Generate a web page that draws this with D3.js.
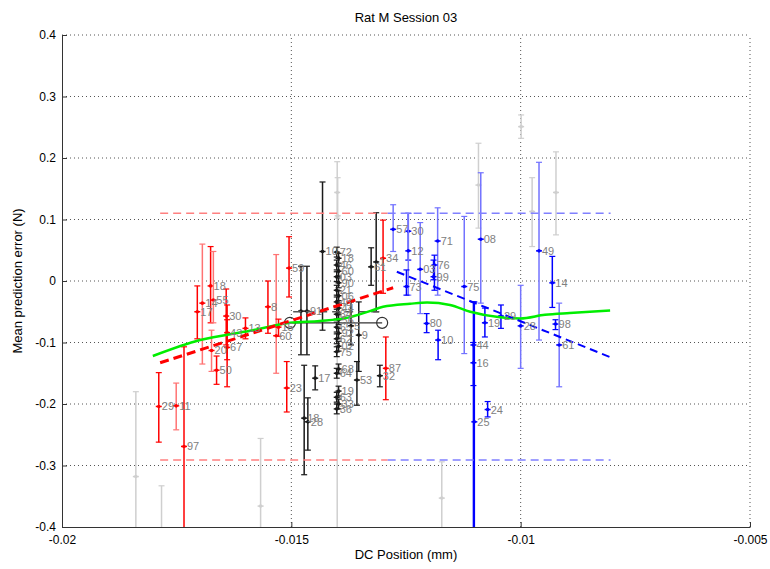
<!DOCTYPE html>
<html>
<head>
<meta charset="utf-8">
<script src="https://cdn.jsdelivr.net/npm/d3@7"></script>
<style>
  body { margin: 0; background: #fff; }
  text { font-family: "Liberation Sans", Arial, sans-serif; }
</style>
</head>
<body>
<svg id="chart" width="770" height="569"></svg>
<script>
// [label, x, mean, low, high]
const redPoints = [
  ["29", -0.01789, -0.204, -0.262, -0.149],
  ["11", -0.01751, -0.203, -0.242, -0.166],
  ["97", -0.01734, -0.269, -0.5, -0.107],
  ["17", -0.01705, -0.050, -0.094, -0.008],
  ["14", -0.01694, -0.036, -0.135, 0.060],
  ["18", -0.01676, -0.008, -0.068, 0.056],
  ["55", -0.01670, -0.031, -0.068, 0.048],
  ["20", -0.01674, -0.113, -0.147, -0.080],
  ["50", -0.01663, -0.145, -0.168, -0.122],
  ["30", -0.01642, -0.057, -0.104, -0.013],
  ["43", -0.01640, -0.084, -0.128, -0.039],
  ["67", -0.01640, -0.108, -0.172, -0.063],
  ["13", -0.01600, -0.077, -0.094, -0.060],
  ["8", -0.01551, -0.042, -0.085, 0.000],
  ["60", -0.01533, -0.089, -0.150, 0.043],
  ["15", -0.01528, -0.075, -0.090, -0.062],
  ["59", -0.01505, 0.021, -0.026, 0.072],
  ["23", -0.01510, -0.174, -0.213, -0.131],
  ["34", -0.01300, 0.037, -0.020, 0.099],
  ["87", -0.01294, -0.142, -0.193, -0.091]
];

const blackPoints = [
  ["", -0.01479, -0.049, -0.120, 0.024],
  ["91", -0.01466, -0.049, -0.120, 0.024],
  ["18", -0.01472, -0.223, -0.315, -0.137],
  ["28", -0.01464, -0.229, -0.275, -0.190],
  ["17", -0.01448, -0.158, -0.177, -0.138],
  ["10", -0.01432, 0.048, -0.080, 0.161],
  ["5", -0.01370, -0.073, -0.104, -0.034],
  ["53", -0.01357, -0.161, -0.202, -0.131],
  ["9", -0.01353, -0.088, -0.147, -0.034],
  ["32", -0.01307, -0.154, -0.172, -0.137],
  ["61", -0.01326, 0.023, -0.007, 0.054],
  ["1", -0.01315, 0.031, -0.050, 0.111]
];

// tightly packed column of trials near x = -0.014
const columnLabels = ["72", "18", "46", "60", "03", "90", "21", "06", "48", "44", "34", "56",
  "65", "92", "62", "02", "75", "68", "64", "19", "63", "33", "36"];
const columnMeans = [0.047, 0.037, 0.026, 0.016, 0.007, -0.003, -0.015, -0.024, -0.034, -0.044,
  -0.054, -0.063, -0.075, -0.085, -0.094, -0.106, -0.115, -0.143, -0.150, -0.179, -0.189, -0.200, -0.208];
const columnX = [-0.01401, -0.01397];

const bluePoints = [
  ["57", -0.01278, 0.084, 0.048, 0.124],
  ["30", -0.01245, 0.081, 0.034, 0.110],
  ["12", -0.01245, 0.049, -0.023, 0.110],
  ["73", -0.01249, -0.009, -0.023, 0.018],
  ["03", -0.01219, 0.019, -0.053, 0.095],
  ["71", -0.01181, 0.065, -0.023, 0.119],
  ["76", -0.01188, 0.026, -0.015, 0.042],
  ["99", -0.01190, 0.007, 0.002, 0.034],
  ["80", -0.01205, -0.069, -0.084, -0.053],
  ["10", -0.01180, -0.096, -0.128, -0.080],
  ["75", -0.01123, -0.009, -0.118, 0.105],
  ["08", -0.01087, 0.068, -0.036, 0.176],
  ["44", -0.01103, -0.104, -0.5, -0.034],
  ["16", -0.01103, -0.133, -0.170, -0.100],
  ["25", -0.01101, -0.229, -0.5, -0.034],
  ["19", -0.01078, -0.068, -0.091, -0.044],
  ["24", -0.01072, -0.209, -0.221, -0.196],
  ["29", -0.01043, -0.057, -0.077, -0.039],
  ["28", -0.01000, -0.073, -0.142, -0.007],
  ["49", -0.00960, 0.049, -0.096, 0.193],
  ["14", -0.00931, -0.003, -0.043, 0.040],
  ["98", -0.00924, -0.070, -0.079, -0.063],
  ["61", -0.00916, -0.104, -0.172, -0.036]
];

// [x, mean, low, high]
const grayPoints = [
  [-0.01839, -0.318, -0.5, -0.180],
  [-0.01783, -0.45, -0.5, -0.333],
  [-0.01567, -0.366, -0.5, -0.256],
  [-0.01400, 0.144, 0.102, 0.194],
  [-0.01399, 0.106, 0.046, 0.168],
  [-0.01400, -0.180, -0.5, 0.000],
  [-0.01172, -0.353, -0.5, -0.294],
  [-0.01092, 0.156, 0.086, 0.224],
  [-0.00999, 0.251, 0.232, 0.270],
  [-0.00975, 0.113, 0.056, 0.168],
  [-0.00923, 0.144, 0.075, 0.210]
];

// fits and bounds
const redFitX = [-0.01786, -0.01278];
const redFitY = [-0.133, -0.011];
const blueFitX = [-0.01270, -0.00804];
const blueFitY = [0.015, -0.124];
const boundUpper = 0.11;
const boundLower = -0.291;
const redBoundX = [-0.01786, -0.01290];
const blueBoundX = [-0.01290, -0.00804];
const blackMeanY = -0.050;
const blackMeanX = [-0.01496, -0.01307];
const blackRefY = -0.068;
const blackRefX = [-0.01503, -0.01302];

const smoothX = [-0.01802, -0.01699, -0.01590, -0.01503, -0.01438, -0.01379, -0.01329, -0.01300,
  -0.01241, -0.01204, -0.01154, -0.01110, -0.01045, -0.01001, -0.00947, -0.00893, -0.00805];
const smoothY = [-0.122, -0.096, -0.081, -0.068, -0.065, -0.060, -0.049, -0.042,
  -0.037, -0.035, -0.039, -0.050, -0.059, -0.061, -0.055, -0.052, -0.048];

const xTicks = [-0.02, -0.015, -0.01, -0.005];
const yTicks = [-0.4, -0.3, -0.2, -0.1, 0, 0.1, 0.2, 0.3, 0.4];

// lighter-drawn trials
const fadedRed = new Set(["14", "11", "20", "60", "55"]);
const fadedBlue = new Set(["57", "03", "71", "75", "08", "28", "49", "61", "12"]);

const svg = d3.select("#chart");
const margin = { left: 62, right: 20, top: 35, bottom: 42 };
const width = 770 - margin.left - margin.right;
const height = 569 - margin.top - margin.bottom;

const x = d3.scaleLinear().domain([-0.02, -0.005]).range([margin.left, margin.left + width]);
const y = d3.scaleLinear().domain([-0.4, 0.4]).range([margin.top + height, margin.top]);

svg.append("defs").append("clipPath").attr("id", "plot-clip")
  .append("rect")
  .attr("x", margin.left).attr("y", margin.top)
  .attr("width", width).attr("height", height);

// grid
const grid = svg.append("g").attr("stroke", "#555").attr("stroke-dasharray", "1,3");
grid.selectAll(".gx").data(xTicks.slice(1)).join("line")
  .attr("x1", (d) => x(d)).attr("x2", (d) => x(d))
  .attr("y1", y(-0.4)).attr("y2", y(0.4));
grid.selectAll(".gy").data(yTicks.slice(1)).join("line")
  .attr("y1", (d) => y(d)).attr("y2", (d) => y(d))
  .attr("x1", x(-0.02)).attr("x2", x(-0.005));

const plot = svg.append("g").attr("clip-path", "url(#plot-clip)");

function drawBars(g, rows, color, fadedSet) {
  const grp = g.append("g");
  rows.forEach((d) => {
    const [label, xv, m, lo, hi] = d;
    const c = fadedSet && fadedSet.has(label) ? d3.interpolateRgb(color, "#fff")(0.45) : color;
    const px = x(xv);
    grp.append("line").attr("x1", px).attr("x2", px)
      .attr("y1", y(lo)).attr("y2", y(hi)).attr("stroke", c).attr("stroke-width", 1.5);
    [lo, hi].forEach((v) => {
      grp.append("line").attr("x1", px - 3).attr("x2", px + 3)
        .attr("y1", y(v)).attr("y2", y(v)).attr("stroke", c).attr("stroke-width", 1.2);
    });
    grp.append("line").attr("x1", px - 3).attr("x2", px + 3)
      .attr("y1", y(m)).attr("y2", y(m)).attr("stroke", color).attr("stroke-width", 1.5);
    grp.append("circle").attr("cx", px).attr("cy", y(m)).attr("r", 1.8).attr("fill", color);
  });
  return grp;
}

function drawLabels(g, rows) {
  g.append("g").selectAll("text").data(rows).join("text")
    .attr("x", (d) => x(d[1]) + 3)
    .attr("y", (d) => y(d[2]) + 4)
    .attr("font-size", 11)
    .attr("fill", "#808080")
    .text((d) => d[0]);
}

// gray trials (no labels)
const grayRows = grayPoints.map((d) => ["", ...d]);
drawBars(plot, grayRows, "#cfcfcf", null);

// column of black trials
const columnRows = columnMeans.map((m, i) => [columnLabels[i], columnX[i % 2], m, m - 0.008, m + 0.008]);

drawBars(plot, redPoints, "#ff0000", fadedRed);
drawBars(plot, blackPoints, "#1a1a1a", null);
drawBars(plot, columnRows, "#1a1a1a", null);
drawBars(plot, bluePoints, "#0000ff", fadedBlue);

// horizontal bounds
const dashed = plot.append("g").attr("stroke-width", 1.5).attr("stroke-dasharray", "8,5").attr("fill", "none");
[boundUpper, boundLower].forEach((b) => {
  dashed.append("line").attr("x1", x(redBoundX[0])).attr("x2", x(redBoundX[1]))
    .attr("y1", y(b)).attr("y2", y(b)).attr("stroke", "#ff8080");
  dashed.append("line").attr("x1", x(blueBoundX[0])).attr("x2", x(blueBoundX[1]))
    .attr("y1", y(b)).attr("y2", y(b)).attr("stroke", "#8080ff");
});

// black reference lines
plot.append("line").attr("x1", x(blackMeanX[0])).attr("x2", x(blackMeanX[1]))
  .attr("y1", y(blackMeanY)).attr("y2", y(blackMeanY))
  .attr("stroke", "#555").attr("stroke-width", 1.5).attr("stroke-dasharray", "8,5");
plot.append("line").attr("x1", x(blackRefX[0])).attr("x2", x(blackRefX[1]))
  .attr("y1", y(blackRefY)).attr("y2", y(blackRefY))
  .attr("stroke", "#333").attr("stroke-width", 1.2);
plot.selectAll(".endc").data(blackRefX).join("circle")
  .attr("cx", (d) => x(d)).attr("cy", y(blackRefY)).attr("r", 5.5)
  .attr("fill", "none").attr("stroke", "#333").attr("stroke-width", 1.2);

// smoothed trend
const line = d3.line().x((d) => x(d[0])).y((d) => y(d[1])).curve(d3.curveMonotoneX);
plot.append("path").datum(smoothX.map((v, i) => [v, smoothY[i]]))
  .attr("d", line).attr("fill", "none").attr("stroke", "#00ee00").attr("stroke-width", 2.5);

// regression fits
plot.append("path").datum(redFitX.map((v, i) => [v, redFitY[i]]))
  .attr("d", d3.line().x((d) => x(d[0])).y((d) => y(d[1])))
  .attr("stroke", "#ff0000").attr("stroke-width", 3).attr("stroke-dasharray", "9,5").attr("fill", "none");
plot.append("path").datum(blueFitX.map((v, i) => [v, blueFitY[i]]))
  .attr("d", d3.line().x((d) => x(d[0])).y((d) => y(d[1])))
  .attr("stroke", "#0000ff").attr("stroke-width", 2).attr("stroke-dasharray", "8,5").attr("fill", "none");

// labels
drawLabels(plot, redPoints);
drawLabels(plot, blackPoints);
drawLabels(plot, columnRows);
drawLabels(plot, bluePoints);

// axes
const fmt = (d) => String(+d.toFixed(3));
svg.append("g").attr("transform", `translate(0,${margin.top + height})`)
  .call(d3.axisBottom(x).tickValues(xTicks).tickFormat(fmt).tickSize(-5).tickSizeOuter(0).tickPadding(8))
  .call((g) => g.selectAll("text").attr("font-size", 12).attr("fill", "#000").style("font-family", "Liberation Sans, Arial, sans-serif"))
  .call((g) => g.selectAll("line, path").attr("stroke", "#333"));
svg.append("g").attr("transform", `translate(${margin.left},0)`)
  .call(d3.axisLeft(y).tickValues(yTicks).tickFormat(fmt).tickSize(-5).tickSizeOuter(0).tickPadding(6))
  .call((g) => g.selectAll("text").attr("font-size", 12).attr("fill", "#000").style("font-family", "Liberation Sans, Arial, sans-serif"))
  .call((g) => g.selectAll("line, path").attr("stroke", "#333"));

svg.append("text").attr("x", margin.left + width / 2).attr("y", 22)
  .attr("text-anchor", "middle").attr("font-size", 13).text("Rat M Session 03");
svg.append("text").attr("x", margin.left + width / 2).attr("y", 559)
  .attr("text-anchor", "middle").attr("font-size", 13).text("DC Position (mm)");
svg.append("text").attr("transform", `translate(22,${margin.top + height / 2}) rotate(-90)`)
  .attr("text-anchor", "middle").attr("font-size", 13).text("Mean prediction error (N)");
</script>
</body>
</html>
